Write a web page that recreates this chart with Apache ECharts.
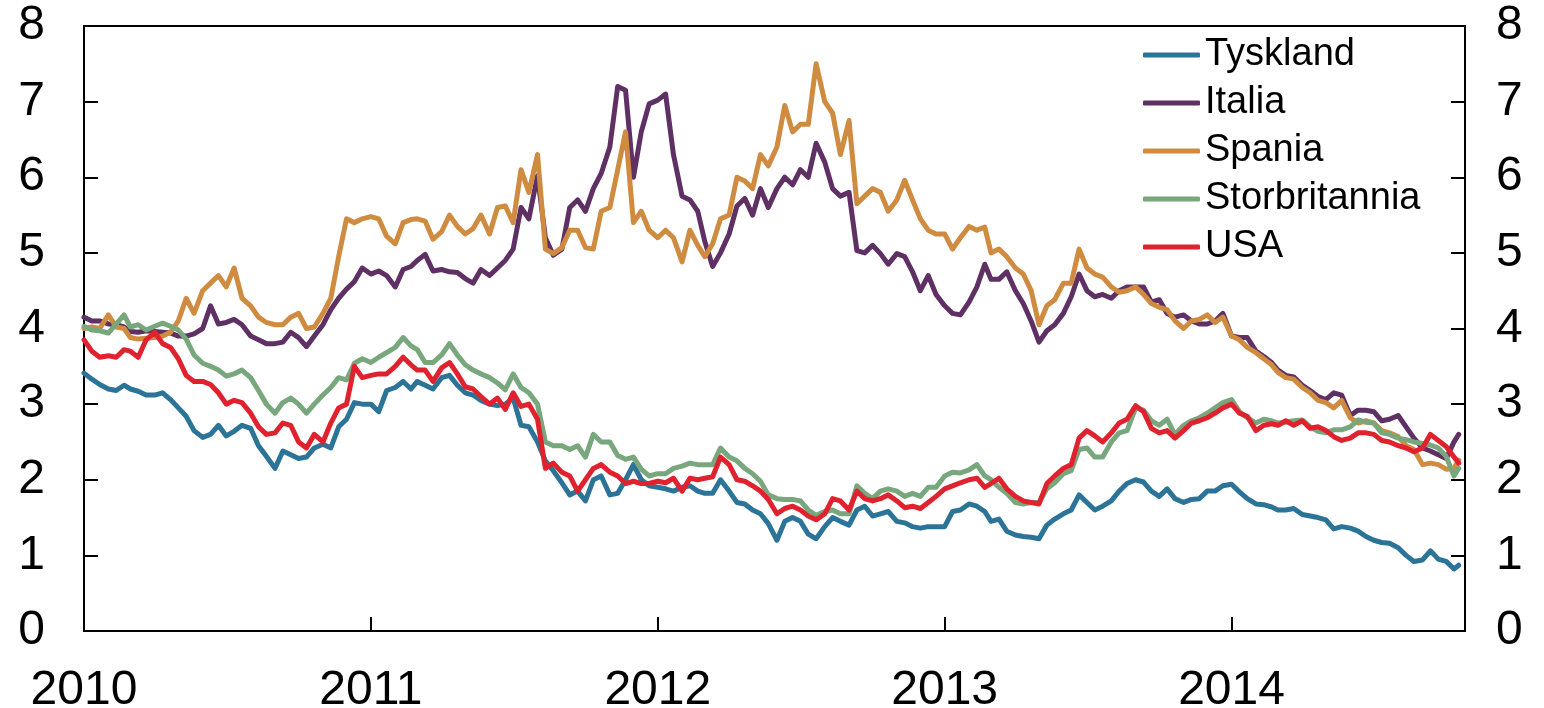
<!DOCTYPE html>
<html><head><meta charset="utf-8">
<script src="https://cdn.jsdelivr.net/npm/echarts@6/dist/echarts.min.js"></script>
<style>html,body{margin:0;padding:0;background:#fff}#c{width:1544px;height:708px}</style>
</head><body><div id="c"></div>
<script>
// Observation dates: 1st, 11th and 21st of every month, Jan 2010 - Oct 2014 (last reading 17 Oct 2014)
const YEARS = [2010, 2011, 2012, 2013, 2014];
const DAYS = [1, 11, 21];
const LAST_DATE = '2014-10-17';
const DATES = [];
for (const y of YEARS) for (let m = 1; m <= 12; m++) for (const d of DAYS) {
  const s = y + '-' + String(m).padStart(2, '0') + '-' + String(d).padStart(2, '0');
  if (s < LAST_DATE) DATES.push(s);
}
DATES.push(LAST_DATE);

const X_TICKS = ['2010', '2011', '2012', '2013', '2014'];
const Y_TICKS = [0, 1, 2, 3, 4, 5, 6, 7, 8];
const NAMES = ['Tyskland', 'Italia', 'Spania', 'Storbritannia', 'USA'];

const tyskland = [
  3.41,3.33,3.26,3.2,3.18,3.25,3.2,3.17,3.12,3.12,3.15,3.06,2.95,2.84,2.65,2.56,2.6,2.72,2.58,2.64,2.72,2.68,2.45,2.31,2.15,2.38,2.33,2.28,2.3,2.42,2.47,2.42,2.7,2.8,3.02,3.0,
  3.0,2.9,3.18,3.22,3.3,3.2,3.3,3.25,3.2,3.35,3.38,3.25,3.15,3.12,3.05,3.0,2.98,3.0,3.08,2.72,2.7,2.5,2.25,2.12,1.96,1.8,1.85,1.72,2.0,2.05,1.8,1.82,2.0,2.2,2.0,1.92,
  1.9,1.88,1.85,1.9,1.92,1.85,1.82,1.82,2.0,1.85,1.7,1.68,1.6,1.55,1.42,1.2,1.45,1.5,1.45,1.28,1.22,1.38,1.5,1.45,1.4,1.6,1.65,1.52,1.55,1.58,1.45,1.43,1.38,1.36,1.38,1.38,
  1.38,1.58,1.6,1.68,1.65,1.58,1.45,1.48,1.32,1.27,1.25,1.24,1.22,1.4,1.48,1.55,1.6,1.8,1.7,1.6,1.65,1.72,1.85,1.95,2.0,1.97,1.85,1.78,1.88,1.75,1.7,1.74,1.75,1.85,1.85,1.92,
  1.94,1.84,1.75,1.68,1.67,1.64,1.6,1.6,1.62,1.54,1.52,1.5,1.47,1.35,1.38,1.36,1.32,1.25,1.2,1.17,1.16,1.1,1.0,0.92,0.94,1.06,0.95,0.92,0.82,0.87
];
const italia = [
  4.15,4.1,4.1,4.06,4.05,4.02,3.96,3.95,3.97,3.96,3.95,3.94,3.9,3.9,3.93,4.0,4.3,4.06,4.08,4.12,4.05,3.9,3.85,3.8,3.8,3.82,3.95,3.88,3.76,3.9,4.05,4.25,4.4,4.52,4.62,4.8,
  4.72,4.76,4.7,4.55,4.78,4.82,4.9,4.98,4.76,4.78,4.75,4.74,4.66,4.6,4.78,4.7,4.8,4.9,5.05,5.6,5.45,6.02,5.2,4.97,5.05,5.6,5.7,5.55,5.85,6.05,6.4,7.2,7.15,6.0,6.6,6.97,
  7.02,7.1,6.3,5.75,5.7,5.55,5.15,4.82,5.0,5.25,5.62,5.72,5.5,5.85,5.6,5.85,6.0,5.9,6.1,6.0,6.45,6.2,5.85,5.75,5.8,5.03,5.0,5.1,4.99,4.85,4.99,4.95,4.75,4.5,4.7,4.45,
  4.3,4.2,4.18,4.35,4.55,4.85,4.65,4.65,4.75,4.5,4.33,4.1,3.82,3.97,4.05,4.2,4.42,4.72,4.5,4.42,4.45,4.4,4.5,4.55,4.55,4.55,4.35,4.38,4.2,4.15,4.18,4.1,4.06,4.06,4.1,4.2,
  3.9,3.88,3.88,3.7,3.63,3.55,3.45,3.38,3.36,3.25,3.18,3.1,3.06,3.15,3.12,2.85,2.92,2.92,2.9,2.78,2.8,2.85,2.7,2.55,2.42,2.38,2.33,2.28,2.5,2.6
];
const spania = [
  4.0,4.02,4.0,4.18,4.02,4.0,3.88,3.86,3.87,3.88,3.9,3.95,4.1,4.4,4.2,4.5,4.6,4.7,4.55,4.8,4.4,4.3,4.15,4.08,4.05,4.05,4.15,4.2,4.0,4.02,4.2,4.4,4.95,5.45,5.4,5.45,
  5.48,5.45,5.22,5.12,5.4,5.44,5.45,5.42,5.18,5.28,5.5,5.35,5.25,5.32,5.5,5.25,5.6,5.62,5.4,6.1,5.8,6.3,5.05,4.99,5.07,5.3,5.3,5.07,5.05,5.55,5.6,6.1,6.6,5.4,5.55,5.3,
  5.2,5.3,5.2,4.88,5.3,5.1,4.95,5.12,5.45,5.5,6.0,5.95,5.85,6.3,6.15,6.4,6.95,6.6,6.7,6.7,7.5,7.0,6.85,6.3,6.75,5.65,5.75,5.85,5.8,5.55,5.7,5.96,5.7,5.45,5.3,5.25,
  5.25,5.05,5.2,5.35,5.3,5.34,5.0,5.05,4.95,4.8,4.72,4.5,4.05,4.3,4.38,4.6,4.6,5.05,4.8,4.72,4.68,4.55,4.48,4.5,4.55,4.45,4.33,4.28,4.25,4.1,4.0,4.1,4.12,4.18,4.08,4.15,
  3.9,3.85,3.75,3.68,3.6,3.52,3.42,3.35,3.33,3.22,3.15,3.05,3.02,2.95,3.05,2.82,2.75,2.78,2.75,2.65,2.62,2.57,2.45,2.4,2.2,2.22,2.2,2.14,2.15,2.26
];
const storbritannia = [
  4.03,3.98,3.97,3.94,4.06,4.18,4.02,4.05,3.98,4.03,4.07,4.03,3.98,3.86,3.65,3.54,3.5,3.45,3.37,3.4,3.45,3.35,3.18,3.0,2.88,3.02,3.08,3.0,2.88,3.0,3.12,3.22,3.35,3.32,3.54,3.6,
  3.55,3.62,3.68,3.75,3.88,3.77,3.72,3.55,3.55,3.65,3.8,3.65,3.52,3.45,3.4,3.35,3.28,3.19,3.4,3.22,3.15,3.0,2.5,2.45,2.45,2.4,2.45,2.3,2.6,2.5,2.5,2.32,2.27,2.3,2.14,2.05,
  2.08,2.08,2.15,2.18,2.22,2.2,2.2,2.2,2.42,2.3,2.25,2.15,2.08,1.98,1.8,1.75,1.74,1.74,1.72,1.6,1.53,1.58,1.6,1.55,1.55,1.92,1.82,1.75,1.85,1.88,1.85,1.78,1.82,1.78,1.9,1.9,
  2.05,2.1,2.09,2.13,2.2,2.05,2.0,1.9,1.82,1.7,1.68,1.7,1.7,1.88,1.96,2.08,2.12,2.4,2.42,2.3,2.3,2.5,2.62,2.65,2.95,2.92,2.78,2.72,2.8,2.6,2.72,2.78,2.82,2.88,2.95,3.02,
  3.06,2.9,2.82,2.75,2.8,2.78,2.75,2.76,2.78,2.79,2.7,2.64,2.62,2.66,2.66,2.7,2.79,2.76,2.75,2.62,2.6,2.55,2.53,2.5,2.48,2.46,2.42,2.31,2.05,2.15
];
const usa = [
  3.85,3.7,3.62,3.64,3.62,3.72,3.7,3.62,3.85,3.95,3.8,3.75,3.6,3.38,3.3,3.3,3.26,3.15,3.0,3.05,3.02,2.88,2.7,2.6,2.62,2.75,2.72,2.5,2.42,2.6,2.5,2.75,2.95,3.0,3.5,3.35,
  3.38,3.4,3.4,3.5,3.62,3.52,3.45,3.45,3.3,3.48,3.55,3.4,3.23,3.2,3.1,3.0,3.08,2.93,3.15,2.97,3.0,2.8,2.15,2.22,2.1,2.05,1.85,2.0,2.15,2.2,2.1,2.05,1.95,1.98,1.95,1.95,
  1.98,1.96,2.02,1.85,2.02,2.0,2.02,2.04,2.3,2.2,2.0,1.98,1.92,1.85,1.74,1.55,1.62,1.65,1.6,1.52,1.47,1.55,1.75,1.72,1.6,1.85,1.75,1.72,1.75,1.8,1.72,1.63,1.65,1.62,1.7,1.78,
  1.88,1.92,1.96,2.0,2.02,1.9,1.95,2.02,1.88,1.78,1.72,1.7,1.68,1.95,2.05,2.15,2.2,2.55,2.65,2.58,2.5,2.62,2.75,2.8,2.98,2.9,2.68,2.62,2.65,2.55,2.65,2.75,2.78,2.82,2.88,2.95,
  3.0,2.88,2.84,2.65,2.72,2.74,2.72,2.78,2.72,2.78,2.68,2.7,2.65,2.57,2.52,2.55,2.62,2.62,2.6,2.52,2.5,2.45,2.42,2.37,2.42,2.6,2.52,2.44,2.3,2.22
];
const COLORS = ['#2c7398', '#5e3063', '#cf8b40', '#79a77d', '#e0222e'];

// date string -> fractional year, so every calendar year is one unit on the axis
function yearFrac(s) {
  const [y, m, d] = s.split('-').map(Number);
  const t0 = Date.UTC(y, 0, 1), t1 = Date.UTC(y + 1, 0, 1);
  return y + (Date.UTC(y, m - 1, d) - t0) / (t1 - t0);
}
const X = DATES.map(yearFrac);
const X_MAX = yearFrac('2014-10-25');

const FONT = 'Liberation Sans, Arial, sans-serif';
const chart = echarts.init(document.getElementById('c'), null, { renderer: 'canvas' });
const seriesData = [tyskland, italia, spania, storbritannia, usa];

const yAxisBase = (pos, margin) => ({
  type: 'value', position: pos, min: Y_TICKS[0], max: Y_TICKS[Y_TICKS.length - 1], interval: 1,
  axisLine: { show: true, lineStyle: { color: '#000', width: 2 } },
  axisTick: { show: true, inside: true, length: 14, lineStyle: { color: '#000', width: 2 } },
  axisLabel: { show: true, margin: margin, color: '#000', fontSize: 48, fontFamily: FONT },
  splitLine: { show: false }
});

chart.setOption({
  animation: false,
  backgroundColor: '#fff',
  color: COLORS,
  grid: { left: 84, right: 79, top: 26, bottom: 77, containLabel: false, outerBoundsMode: 'none',
    show: true, borderColor: '#000', borderWidth: 2, backgroundColor: 'transparent' },
  legend: {
    data: NAMES, orient: 'vertical', left: 1138, top: 31, itemGap: 10,
    icon: 'roundRect', itemWidth: 57, itemHeight: 5, itemTextGap: 2,
    textStyle: { color: '#000', fontSize: 38, fontFamily: FONT }
  },
  xAxis: {
    type: 'value', min: Number(X_TICKS[0]), max: X_MAX, interval: 1,
    axisLine: { show: true, lineStyle: { color: '#000', width: 2 } },
    axisTick: { show: true, inside: true, length: 14, lineStyle: { color: '#000', width: 2 } },
    axisLabel: { show: true, margin: 36, color: '#000', fontSize: 48, fontFamily: FONT, showMaxLabel: false,
      formatter: v => X_TICKS.includes(String(Math.round(v))) && Math.abs(v - Math.round(v)) < 1e-6 ? String(Math.round(v)) : '' },
    splitLine: { show: false }
  },
  yAxis: [yAxisBase('left', 39), yAxisBase('right', 31)],
  series: NAMES.map((n, i) => ({
    name: n, type: 'line', symbol: 'none', smooth: false, yAxisIndex: 0,
    lineStyle: { width: 5, color: COLORS[i], join: 'round', cap: 'round' },
    itemStyle: { color: COLORS[i] },
    data: X.map((x, k) => [x, seriesData[i][k]])
  }))
});
</script>
</body></html>
